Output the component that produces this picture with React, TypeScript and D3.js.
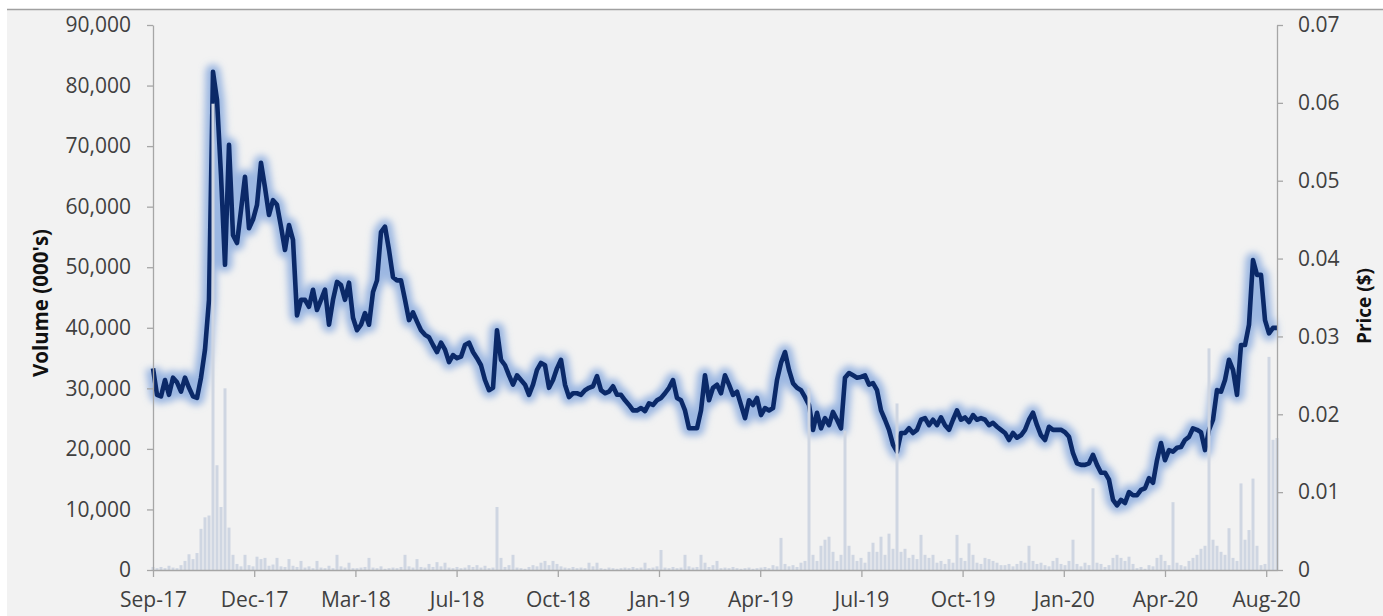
import { useEffect, useRef } from "react";
import * as d3 from "d3";

// x axis labels (Excel category axis, one label every ~25 points)
const monthLabels = ["Sep-17", "Dec-17", "Mar-18", "Jul-18", "Oct-18", "Jan-19", "Apr-19", "Jul-19", "Oct-19", "Jan-20", "Apr-20", "Aug-20"];
const labelStep = 25.3;

const volumeTicks = [0, 10000, 20000, 30000, 40000, 50000, 60000, 70000, 80000, 90000];
const priceTicks = [0, 0.01, 0.02, 0.03, 0.04, 0.05, 0.06, 0.07];

// share price ($)
const price = [
  0.0259, 0.0225, 0.0223, 0.0244, 0.0225, 0.0247, 0.0241, 0.0229, 0.0247, 0.0234,
  0.0223, 0.0221, 0.0247, 0.0283, 0.0347, 0.064, 0.0604, 0.0507, 0.0392, 0.0546,
  0.043, 0.042, 0.0462, 0.0505, 0.0439, 0.045, 0.0469, 0.0523, 0.0491, 0.0456,
  0.0475, 0.0469, 0.0441, 0.0411, 0.0443, 0.0424, 0.0327, 0.0347, 0.0347, 0.0338,
  0.036, 0.0334, 0.0347, 0.036, 0.0315, 0.0347, 0.037, 0.0366, 0.0347, 0.0369,
  0.0324, 0.0308, 0.0315, 0.033, 0.0315, 0.0357, 0.0372, 0.0434, 0.0441, 0.0411,
  0.0376, 0.0372, 0.0372, 0.0347, 0.0321, 0.0331, 0.0319, 0.0308, 0.0302, 0.0299,
  0.0289, 0.028, 0.0292, 0.0283, 0.0267, 0.0276, 0.0272, 0.0274, 0.0289, 0.0292,
  0.028, 0.0272, 0.0263, 0.0244, 0.0231, 0.0234, 0.0308, 0.027, 0.0263, 0.025,
  0.0238, 0.025, 0.0244, 0.0238, 0.0225, 0.0238, 0.0257, 0.0266, 0.0263, 0.0234,
  0.0244, 0.0259, 0.027, 0.0238, 0.0222, 0.0227, 0.0227, 0.0225, 0.0231, 0.0234,
  0.0236, 0.0249, 0.0231, 0.0227, 0.0229, 0.0236, 0.0225, 0.0225, 0.0218, 0.0212,
  0.0205, 0.0205, 0.0208, 0.0204, 0.0214, 0.0212, 0.0218, 0.0221, 0.0227, 0.0234,
  0.0244, 0.0221, 0.0218, 0.0205, 0.0182, 0.0182, 0.0182, 0.0205, 0.025, 0.0218,
  0.0234, 0.0238, 0.0227, 0.025, 0.0238, 0.0225, 0.0229, 0.0212, 0.0195, 0.0218,
  0.0212, 0.0221, 0.0199, 0.0208, 0.0205, 0.0208, 0.0244, 0.0266, 0.028, 0.0257,
  0.024, 0.0234, 0.0231, 0.0222, 0.0212, 0.018, 0.0202, 0.0182, 0.0195, 0.0186,
  0.0203, 0.0193, 0.0182, 0.0247, 0.0253, 0.025, 0.0247, 0.0248, 0.025, 0.0238,
  0.024, 0.0231, 0.0205, 0.0193, 0.018, 0.0161, 0.0152, 0.0176, 0.0176, 0.0182,
  0.0176, 0.018, 0.0193, 0.0195, 0.0186, 0.0193, 0.0186, 0.0196, 0.0186, 0.018,
  0.0193, 0.0205, 0.0193, 0.0196, 0.019, 0.0199, 0.0193, 0.0195, 0.0193, 0.0186,
  0.0189, 0.0184, 0.018, 0.0176, 0.0167, 0.0176, 0.017, 0.0173, 0.018, 0.0193,
  0.0202, 0.0186, 0.0173, 0.0167, 0.0184, 0.018, 0.018, 0.018, 0.0177, 0.0171,
  0.015, 0.0137, 0.0135, 0.0135, 0.0137, 0.0148, 0.0135, 0.0125, 0.0125, 0.0116,
  0.009, 0.0083, 0.009, 0.0086, 0.01, 0.0096, 0.0096, 0.0103, 0.0105, 0.0118,
  0.0112, 0.0141, 0.0163, 0.0141, 0.0154, 0.0152, 0.0157, 0.0158, 0.0167, 0.0171,
  0.0182, 0.018, 0.0177, 0.0154, 0.018, 0.0193, 0.0231, 0.0229, 0.0244, 0.027,
  0.0257, 0.0225, 0.0289, 0.0289, 0.0315, 0.0398, 0.0379, 0.0379, 0.0321, 0.0304,
  0.0311, 0.0311,
];

// volume (000's), same points as price
const volume = [
  500, 300, 500, 300, 700, 400, 300, 800, 1500, 2600,
  1800, 2800, 6800, 8700, 9000, 77000, 17300, 10400, 30000, 7000,
  2500, 1000, 600, 2500, 800, 600, 2200, 1800, 2000, 700,
  900, 2000, 600, 500, 1800, 700, 500, 1500, 400, 600,
  300, 1500, 400, 300, 700, 300, 2500, 600, 400, 1200,
  300, 300, 400, 500, 2000, 400, 300, 600, 200, 300,
  400, 300, 500, 2500, 600, 400, 1800, 500, 400, 1000,
  500, 1300, 600, 1200, 400, 300, 500, 300, 400, 800,
  500, 800, 400, 700, 300, 400, 10400, 2000, 500, 800,
  2500, 400, 300, 200, 500, 800, 600, 1200, 1500, 800,
  1500, 1000, 600, 400, 300, 500, 300, 400, 300, 1200,
  600, 1200, 300, 200, 400, 300, 200, 300, 400, 300,
  500, 300, 400, 1200, 300, 400, 600, 3300, 400, 300,
  500, 300, 400, 2500, 600, 400, 500, 2500, 1200, 500,
  800, 1500, 300, 400, 300, 500, 300, 200, 300, 400,
  200, 300, 400, 500, 300, 800, 600, 5300, 1000, 600,
  800, 500, 1200, 1500, 30000, 2500, 1500, 4000, 5000, 5500,
  3000, 1500, 2500, 23000, 4000, 2500, 1500, 2000, 1200, 3000,
  4500, 3000, 5500, 2500, 6000, 3500, 27500, 3000, 3500, 2000,
  2500, 1800, 5800, 2500, 2000, 2500, 1200, 1500, 1000, 1800,
  1200, 5800, 2000, 1500, 4400, 2500, 1200, 1000, 2000, 1800,
  1500, 1200, 800, 800, 1000, 600, 1000, 1500, 1200, 4000,
  1500, 1000, 1200, 800, 600, 1500, 2000, 1000, 800, 1500,
  5000, 1000, 600, 1200, 800, 13500, 1200, 1000, 500, 800,
  2000, 2500, 2000, 1500, 2200, 1000, 300, 500, 200, 800,
  600, 2000, 2500, 1500, 800, 11200, 1200, 800, 600, 1500,
  2000, 2500, 3500, 4000, 36600, 5000, 4000, 3000, 2500, 6900,
  2000, 1500, 14300, 5000, 6600, 15100, 4000, 800, 1000, 35200,
  21500, 21800,
];

const App = () => {
  const svgRef = useRef<SVGSVGElement>(null);

  useEffect(() => {
    document.body.style.margin = "0";
    const svg = d3.select(svgRef.current);
    svg.selectAll("*").remove();

    const width = 1383;
    const height = 616;
    const left = 153;
    const right = 1277;
    const top = 25;
    const bottom = 570;
    const font = "'Open Sans', 'Noto Sans', sans-serif";
    const axisColor = "#a6a6a6";
    const textColor = "#404040";

    // background panel + top border
    svg.append("rect").attr("width", width).attr("height", height).attr("fill", "#fff");
    svg.append("rect").attr("x", 7).attr("y", 10).attr("width", width - 7).attr("height", height - 10).attr("fill", "#f2f2f2");
    svg.append("line").attr("x1", 7).attr("x2", width).attr("y1", 9.5).attr("y2", 9.5).attr("stroke", "#a0a0a0").attr("stroke-width", 1.5);

    const x = d3.scaleLinear().domain([0, price.length - 1]).range([left, right]);
    const yVol = d3.scaleLinear().domain([0, 90000]).range([bottom, top]);
    const yPrice = d3.scaleLinear().domain([0, 0.07]).range([bottom, top]);

    const defs = svg.append("defs");
    defs
      .append("filter")
      .attr("id", "glow")
      .attr("x", "-10%")
      .attr("y", "-10%")
      .attr("width", "120%")
      .attr("height", "120%")
      .append("feGaussianBlur")
      .attr("stdDeviation", 3.5);

    // price line with soft blue glow
    const line = d3
      .line<number>()
      .x((_, i) => x(i))
      .y((d) => yPrice(d));

    svg
      .append("path")
      .datum(price)
      .attr("fill", "none")
      .attr("stroke", "#7da3dc")
      .attr("stroke-width", 15)
      .attr("stroke-opacity", 0.75)
      .attr("stroke-linejoin", "round")
      .attr("filter", "url(#glow)")
      .attr("d", line);

    svg
      .append("path")
      .datum(price)
      .attr("fill", "none")
      .attr("stroke", "#0b2968")
      .attr("stroke-width", 4.6)
      .attr("stroke-linejoin", "round")
      .attr("d", line);

    // volume bars sit on top of the line
    svg
      .append("g")
      .selectAll("rect")
      .data(volume)
      .join("rect")
      .attr("x", (_, i) => x(i) - 1.5)
      .attr("width", 3)
      .attr("y", (d) => yVol(d))
      .attr("height", (d) => bottom - yVol(d))
      .attr("fill", "#cfd6e2");

    // axes
    const styleAxis = (g: any) => {
      g.select(".domain").attr("stroke", axisColor).attr("stroke-width", 1.3);
      g.selectAll(".tick line").attr("stroke", axisColor).attr("stroke-width", 1.3);
      g.selectAll(".tick text").attr("fill", textColor).attr("font-family", font).attr("font-size", 21);
    };

    svg
      .append("g")
      .attr("transform", `translate(${left},0)`)
      .call(d3.axisLeft(yVol).tickValues(volumeTicks).tickSize(6).tickSizeOuter(0).tickPadding(16).tickFormat(d3.format(",") as any))
      .call(styleAxis);

    svg
      .append("g")
      .attr("transform", `translate(${right},0)`)
      .call(
        d3
          .axisRight(yPrice)
          .tickValues(priceTicks)
          .tickSize(6)
          .tickSizeOuter(0)
          .tickPadding(15)
          .tickFormat((d: any) => (d === 0 ? "0" : d3.format(".2f")(d)))
      )
      .call(styleAxis);

    svg
      .append("g")
      .attr("transform", `translate(0,${bottom})`)
      .call(
        d3
          .axisBottom(x)
          .tickValues(monthLabels.map((_, k) => k * labelStep))
          .tickSize(7)
          .tickSizeOuter(0)
          .tickPadding(15)
          .tickFormat((_, k) => monthLabels[k])
      )
      .call(styleAxis);

    // axis titles
    svg
      .append("text")
      .attr("transform", "translate(43,303) rotate(-90)")
      .attr("text-anchor", "middle")
      .attr("dominant-baseline", "middle")
      .attr("font-family", font)
      .attr("font-size", 20.5)
      .attr("font-weight", "bold")
      .attr("fill", "#111")
      .text("Volume (000's)");

    svg
      .append("text")
      .attr("transform", "translate(1366,306) rotate(-90)")
      .attr("text-anchor", "middle")
      .attr("dominant-baseline", "middle")
      .attr("font-family", font)
      .attr("font-size", 19)
      .attr("font-weight", "bold")
      .attr("fill", "#111")
      .text("Price ($)");
  }, []);

  return <svg ref={svgRef} width={1383} height={616} style={{ display: "block" }} />;
};

export default App;
